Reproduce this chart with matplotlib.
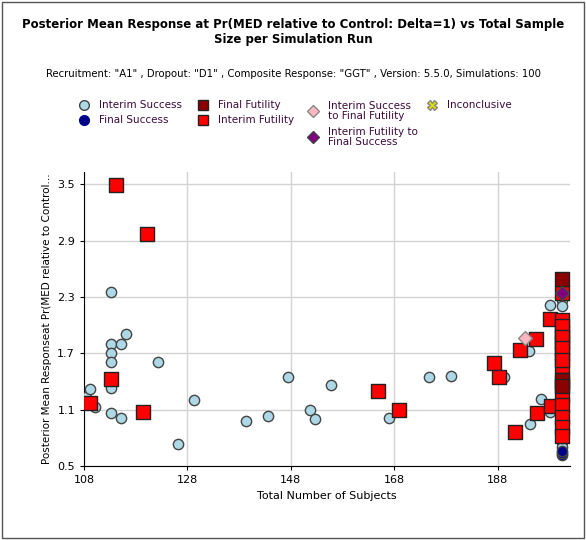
import matplotlib
matplotlib.use("Agg")
import matplotlib.pyplot as plt
from matplotlib.patches import Rectangle

is_x = [108.4,109.2,110.1,113.2,113.2,113.2,113.2,113.2,113.2,115.1,115.1,116.1,122.3,129.3,126.2,139.3,143.6,147.4,151.7,152.6,155.7,166.9,174.8,178.9,189.2,194.0,194.2,196.3,198.2,198.2,200.4,
        200.4,200.4,200.4,200.4,200.4,200.4,200.4,200.4,200.4]
is_y = [1.23,1.32,1.13,2.35,1.80,1.70,1.61,1.33,1.06,1.01,1.80,1.91,1.61,1.20,0.73,0.98,1.03,1.45,1.10,1.00,1.36,1.01,1.45,1.46,1.45,1.72,0.95,1.21,1.07,2.21,2.27,
        0.76,0.70,0.80,0.88,0.97,1.10,1.20,1.30,2.20]
fs_x = [200.4,200.4,200.4,200.4]
fs_y = [1.07,0.62,0.64,0.66]
ff_x = [200.4,200.4,200.4,200.4]
ff_y = [2.49,1.39,1.42,1.35]
if_x = [114.2,120.2,113.2,109.2,119.4,164.8,168.9,187.3,188.2,191.3,192.3,195.4,195.6,198.2,198.4,
        200.4,200.4,200.4,200.4,200.4,200.4,200.4,200.4,200.4,200.4,200.4,200.4,200.4,200.4,200.4]
if_y = [3.49,2.97,1.43,1.17,1.07,1.30,1.10,1.60,1.45,0.86,1.73,1.85,1.06,2.06,1.14,
        2.34,2.05,1.92,1.82,1.70,1.56,1.26,1.15,1.02,0.91,0.82,1.99,1.87,1.76,1.63]
isff_x = [193.2]
isff_y = [1.86]
iffs_x = [200.4]
iffs_y = [2.34]

fig = plt.figure(figsize=(5.86,5.40), dpi=100)
fig.patches.append(Rectangle((0.003,0.003),0.994,0.994,transform=fig.transFigure,fill=False,ec='#555',lw=1))
ax = fig.add_axes([84/586, 1-466/540, 486/586, 294/540])
ax.scatter(is_x, is_y, s=55, marker='o', c='#add8e6', edgecolors='#444', linewidths=1, zorder=3)
ax.scatter(fs_x, fs_y, s=55, marker='o', c='#00008b', edgecolors='#444', linewidths=1, zorder=3)
ax.scatter(if_x, if_y, s=90, marker='s', c='#ff0000', edgecolors='#222', linewidths=1, zorder=4)
ax.scatter(ff_x, ff_y, s=90, marker='s', c='#8b0000', edgecolors='#222', linewidths=1, zorder=4)
ax.scatter(isff_x, isff_y, s=50, marker='D', c='#ffb6c1', edgecolors='#888', linewidths=1, zorder=5)
ax.scatter(iffs_x, iffs_y, s=50, marker='D', c='#800080', edgecolors='#444', linewidths=1, zorder=5)
ax.set_xlim(108, 202)
ax.set_ylim(0.5, 3.63)
ax.set_xticks([108,128,148,168,188])
ax.set_yticks([0.5,1.1,1.7,2.3,2.9,3.5])
ax.set_yticklabels(['0.5','1.1','1.7','2.3','2.9','3.5'])
ax.grid(True, color='#d3d3d3', lw=1)
ax.set_axisbelow(True)
for s in ['top','right']: ax.spines[s].set_visible(False)
ax.tick_params(labelsize=8, length=3)
ax.set_xlabel('Total Number of Subjects', fontsize=8)
ax.set_ylabel('Posterior Mean Responseat Pr(MED relative to Control...', fontsize=7.5)

fig.text(0.5, 1-32/540, 'Posterior Mean Response at Pr(MED relative to Control: Delta=1) vs Total Sample\nSize per Simulation Run',
         ha='center', va='center', fontsize=8.5, fontweight='bold')
fig.text(0.5, 1-74/540, 'Recruitment: "A1" , Dropout: "D1" , Composite Response: "GGT" , Version: 5.5.0, Simulations: 100',
         ha='center', va='center', fontsize=7.3)

def leg(x, y, marker, fc, ec, text, s=7):
    fig.add_artist(plt.Line2D([x/586],[1-y/540], marker=marker, color='none', markerfacecolor=fc, markeredgecolor=ec, markersize=s, transform=fig.transFigure))
    fig.text((x+15)/586, 1-y/540, text, va='center', fontsize=7.5, color='#3b0a3b', linespacing=0.95)
leg(84,105,'o','#add8e6','#444','Interim Success')
leg(84,120,'o','#00008b','#00008b','Final Success')
leg(203,105,'s','#8b0000','#222','Final Futility')
leg(203,120,'s','#ff0000','#222','Interim Futility')
leg(313,111,'D','#ffb6c1','#888','Interim Success\nto Final Futility',6)
leg(313,137,'D','#800080','#444','Interim Futility to\nFinal Success',6)
leg(432,105,'X','#dddd00','#888','Inconclusive')
fig.savefig('out.png', dpi=100)
